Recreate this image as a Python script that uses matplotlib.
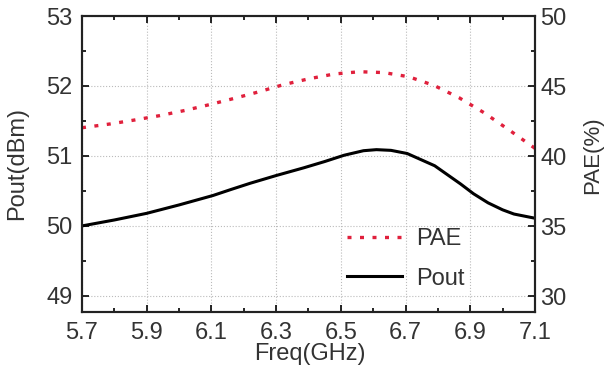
import matplotlib
matplotlib.use("Agg")
import matplotlib.pyplot as plt
from matplotlib.ticker import MultipleLocator

# Pout (dBm) vs frequency (GHz)
freq_pout = [5.70, 5.80, 5.90, 6.00, 6.105, 6.16, 6.22, 6.30, 6.385, 6.45, 6.51, 6.57,
             6.61, 6.655, 6.705, 6.79, 6.87, 6.91, 6.955, 7.00, 7.035, 7.10]
pout = [50.00, 50.085, 50.18, 50.30, 50.435, 50.52, 50.61, 50.72, 50.83, 50.92, 51.01, 51.075,
        51.09, 51.08, 51.035, 50.86, 50.60, 50.46, 50.33, 50.23, 50.17, 50.11]

# PAE (%) vs frequency (GHz)
freq_pae = [5.70, 5.787, 5.862, 5.939, 6.017, 6.094, 6.171, 6.249, 6.323, 6.402, 6.48,
            6.558, 6.633, 6.71, 6.788, 6.865, 6.942, 7.02, 7.10]
pae = [42.02, 42.29, 42.57, 42.88, 43.25, 43.67, 44.12, 44.60, 45.10, 45.52, 45.86,
       46.02, 45.96, 45.66, 45.04, 44.17, 43.10, 41.86, 40.55]

xticks = [5.7, 5.9, 6.1, 6.3, 6.5, 6.7, 6.9, 7.1]
yticks_left = [49, 50, 51, 52, 53]
yticks_right = [30, 35, 40, 45, 50]

plt.rcParams['font.family'] = ['Liberation Sans', 'DejaVu Sans']
fig = plt.figure(figsize=(6.06, 3.74), dpi=100)
ax = fig.add_axes([0.1353, 0.1658, 0.7475, 0.7914])
ax2 = ax.twinx()

tc = '#333333'
fs = 17
l2, = ax2.plot(freq_pae, pae, color='#e0203c', lw=2.4, linestyle=(0, (1.2, 2.55)), label='PAE')
l1, = ax.plot(freq_pout, pout, color='black', lw=2.2, label='Pout')

ax.set_xlim(5.7, 7.1)
ax.set_ylim(48.77, 53)
ax2.set_ylim(28.86, 50)
ax.set_xticks(xticks)
ax.set_xticklabels([f"{v:.1f}" for v in xticks])
ax.set_yticks(yticks_left)
ax2.set_yticks(yticks_right)
ax.xaxis.set_minor_locator(MultipleLocator(0.1))
ax.yaxis.set_minor_locator(MultipleLocator(0.5))
ax2.yaxis.set_minor_locator(MultipleLocator(2.5))

ax.grid(True, which='major', linestyle=':', color='#bbbbbb', lw=0.8)
for a in (ax, ax2):
    a.tick_params(which='both', direction='in', labelsize=fs, colors='black', labelcolor=tc, width=1.2)
    a.tick_params(which='major', length=5)
    a.tick_params(which='minor', length=3)
    for s in a.spines.values():
        s.set_linewidth(1.5)
        s.set_color('#222222')
ax.tick_params(top=True, which='both')
ax.tick_params(axis='x', pad=7)
ax.tick_params(axis='y', pad=7)
ax2.tick_params(axis='y', pad=4)

ax.set_xlabel('Freq(GHz)', fontsize=fs, color=tc)
ax.set_ylabel('Pout(dBm)', fontsize=fs, color=tc)
ax2.set_ylabel('PAE(%)', fontsize=16, color=tc)
ax.xaxis.set_label_coords(0.503, -0.105)
ax.yaxis.set_label_coords(-0.119, 0.5)
ax2.yaxis.label.set_verticalalignment('center')
ax2.yaxis.set_label_coords(1.128, 0.53)

leg = ax.legend([l2, l1], ['PAE', 'Pout'], loc='center left', bbox_to_anchor=(0.585, 0.18),
                frameon=False, fontsize=fs, handlelength=2.33, handletextpad=0.6,
                labelcolor=tc, borderpad=0, borderaxespad=0, labelspacing=0.75)

fig.savefig('out.png', dpi=100)
